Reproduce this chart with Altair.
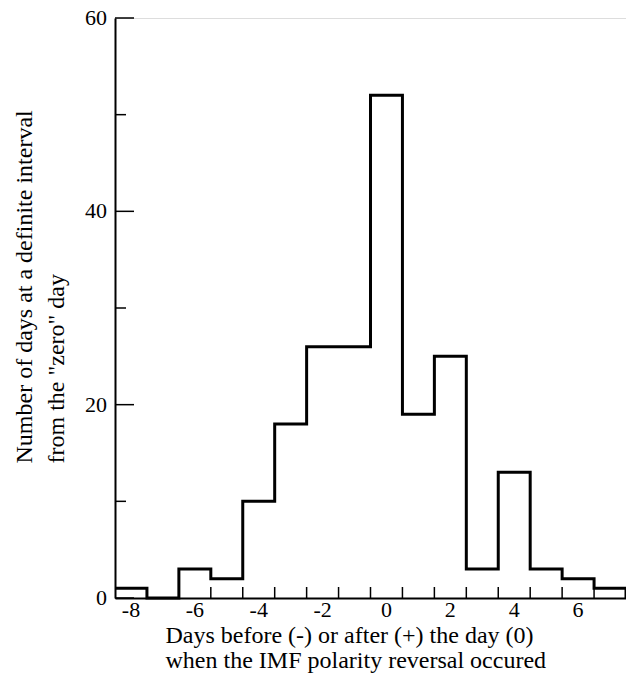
import altair as alt
import pandas as pd

# Days relative to the IMF polarity reversal (bin centres) and counts
days = [-8, -7, -6, -5, -4, -3, -2, -1, 0, 1, 2, 3, 4, 5, 6, 7]
counts = [1, 0, 3, 2, 10, 18, 26, 26, 52, 19, 25, 3, 13, 3, 2, 1]

x_labels = [-8, -6, -4, -2, 0, 2, 4, 6]
y_major = [0, 20, 40, 60]
y_minor = [10, 30, 50]

x_title = ["Days before (-) or after (+) the day (0)",
           "when the IMF polarity reversal occured"]
y_title = ["Number of days at a definite interval",
           "from the \"zero\" day"]

# step outline: left bin edges plus closing edge
edges = [d - 0.5 for d in days] + [days[-1] + 0.5]
vals = counts + [0]
step_df = pd.DataFrame({"edge": edges, "count": vals})

x_ticks_df = pd.DataFrame({"t": [d + 0.5 for d in days[:-1]]})
ymaj_df = pd.DataFrame({"v": y_major, "lab": [str(v) for v in y_major]})
ymin_df = pd.DataFrame({"v": y_minor})
xlab_df = pd.DataFrame({"v": x_labels, "lab": [str(v) for v in x_labels]})

FONT = "Liberation Serif"
W, H = 511, 580

xscale = alt.Scale(domain=[-8.5, 7.5], nice=False, zero=False)
yscale = alt.Scale(domain=[0, 60], nice=False)

xaxis = alt.Axis(values=x_labels, tickSize=0, grid=False, labels=False,
                 domainColor="black", domainWidth=2,
                 titleFont=FONT, titleFontSize=24, titleFontWeight="normal",
                 titleColor="black", titleAlign="left", titleAnchor="start",
                 titleX=50, titleY=44, titleBaseline="alphabetic",
                 titleLineHeight=25)
yaxis = alt.Axis(values=y_major, tickSize=0, grid=False, labels=False,
                 domainColor="black", domainWidth=2,
                 titleFont=FONT, titleFontSize=24, titleFontWeight="normal",
                 titleColor="black", titleAngle=-90, titleAlign="left",
                 titleX=-84, titleY=445, titleBaseline="alphabetic",
                 titleLineHeight=32)

step = alt.Chart(step_df).mark_line(
    interpolate="step-after", color="black", strokeWidth=3, clip=False
).encode(
    x=alt.X("edge:Q", scale=xscale, title=x_title, axis=xaxis),
    y=alt.Y("count:Q", scale=yscale, title=y_title, axis=yaxis),
)

xt = alt.Chart(x_ticks_df).mark_rule(color="black", strokeWidth=1.5).encode(
    x=alt.X("t:Q", scale=xscale, title=x_title, axis=xaxis),
    y=alt.value(H), y2=alt.value(H - 11),
)

ymaj = alt.Chart(ymaj_df).mark_rule(color="black", strokeWidth=1.5).encode(
    y=alt.Y("v:Q", scale=yscale, title=y_title, axis=yaxis),
    x=alt.value(0), x2=alt.value(19),
)

ymin = alt.Chart(ymin_df).mark_rule(color="black", strokeWidth=1.5).encode(
    y=alt.Y("v:Q", scale=yscale, title=y_title, axis=yaxis),
    x=alt.value(0), x2=alt.value(11),
)

xlab = alt.Chart(xlab_df).mark_text(
    font=FONT, fontSize=22, color="black", baseline="middle", align="center"
).encode(
    x=alt.X("v:Q", scale=xscale, title=x_title, axis=xaxis),
    y=alt.value(H + 12),
    text="lab:N",
)

ylab = alt.Chart(ymaj_df).mark_text(
    font=FONT, fontSize=22, color="black", baseline="middle", align="right"
).encode(
    y=alt.Y("v:Q", scale=yscale, title=y_title, axis=yaxis),
    x=alt.value(-8),
    text="lab:N",
)

chart = alt.layer(step, xt, ymaj, ymin, xlab, ylab).properties(
    width=W, height=H,
    autosize=alt.AutoSizeParams(type="none"),
    padding={"left": 107, "top": 10, "right": 0, "bottom": 84},
).configure_view(stroke=None).configure(
    background="white", font=FONT
).configure_axis(titleFont=FONT)

chart.save("out.html", embed_options={"renderer": "svg", "actions": False})
